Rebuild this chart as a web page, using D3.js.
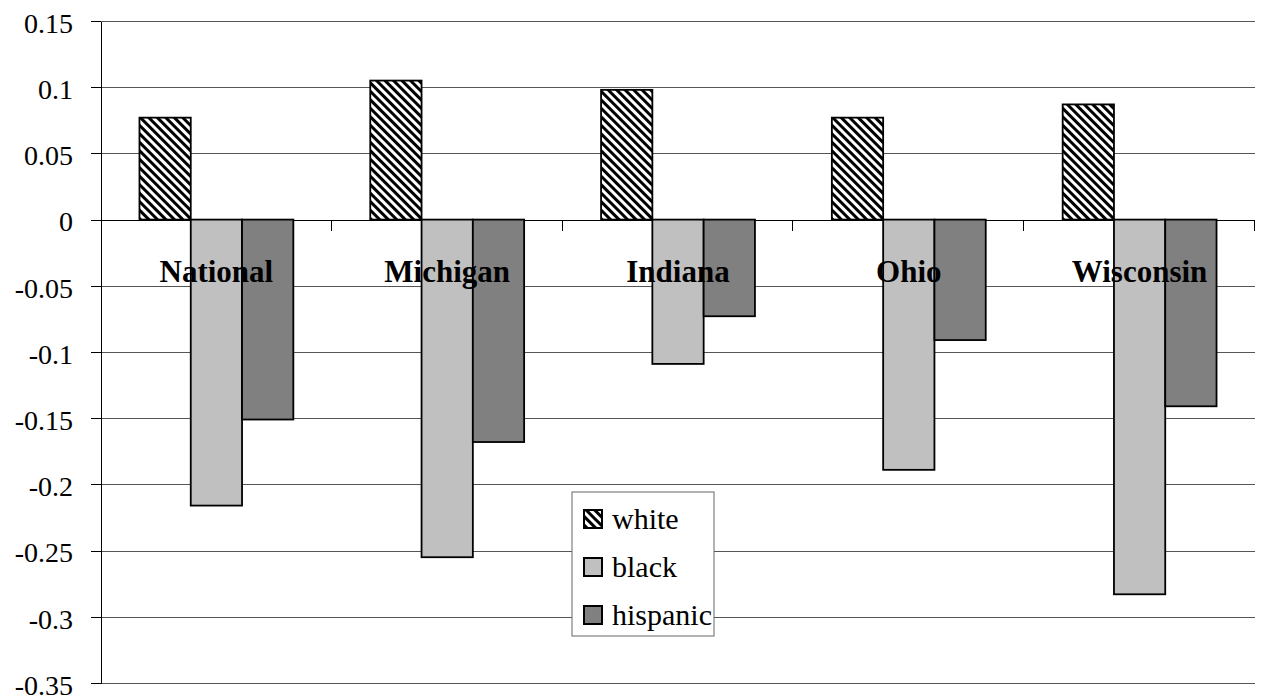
<!DOCTYPE html>
<html lang="en">
<head>
    <meta charset="UTF-8">
    <title>white / black / hispanic by state</title>
    <script src="https://d3js.org/d3.v7.min.js"></script>
    <style>
        body {
            margin: 0;
            padding: 0;
            background-color: #fff;
        }
        svg { display: block; }
        .grid line { stroke: #555; stroke-width: 1; shape-rendering: crispEdges; }
        .grid line.zero { stroke: #000; }
        .axis--y .tick line { stroke: #000; shape-rendering: crispEdges; }
        .axis--y path { stroke: #000; shape-rendering: crispEdges; }
        .bar { stroke: #000; stroke-width: 1.8; }
    </style>
</head>
<body>
    <svg id="chart" width="1265" height="700"></svg>

    <script>
        const categories = ["National", "Michigan", "Indiana", "Ohio", "Wisconsin"];
        const series = ["white", "black", "hispanic"];
        const whiteValues = [0.077, 0.105, 0.098, 0.077, 0.087];
        const blackValues = [-0.216, -0.255, -0.109, -0.189, -0.283];
        const hispanicValues = [-0.151, -0.168, -0.073, -0.091, -0.141];
        const yTickValues = [0.15, 0.1, 0.05, 0, -0.05, -0.1, -0.15, -0.2, -0.25, -0.3, -0.35];
        const yTickLabels = ["0.15", "0.1", "0.05", "0", "-0.05", "-0.1", "-0.15", "-0.2", "-0.25", "-0.3", "-0.35"];

        const valuesBySeries = { white: whiteValues, black: blackValues, hispanic: hispanicValues };
        const fills = { white: "url(#hatch)", black: "#c0c0c0", hispanic: "#808080" };
        const serif = '"Liberation Serif", serif';

        const svg = d3.select("#chart");
        const margin = { top: 21, right: 10, bottom: 17, left: 101 };
        const width = +svg.attr("width") - margin.left - margin.right;
        const height = +svg.attr("height") - margin.top - margin.bottom;

        // hatch pattern for the "white" series (downward diagonal stripes)
        const pat = svg.append("defs").append("pattern")
            .attr("id", "hatch")
            .attr("patternUnits", "userSpaceOnUse")
            .attr("width", 6)
            .attr("height", 6)
            .attr("patternTransform", "rotate(-45)");
        pat.append("rect").attr("width", 6).attr("height", 6).attr("fill", "#fff");
        pat.append("rect").attr("width", 3).attr("height", 6).attr("fill", "#000");

        const g = svg.append("g").attr("transform", `translate(${margin.left},${margin.top})`);

        const x0 = d3.scaleBand()
            .domain(categories)
            .range([0, width])
            .padding(0);

        const x1 = d3.scaleBand()
            .domain(series)
            .range([0, x0.bandwidth()])
            .paddingInner(0)
            .paddingOuter(0.75);

        const y = d3.scaleLinear()
            .domain([-0.35, 0.15])
            .range([height, 0]);

        // gridlines
        g.append("g")
            .attr("class", "grid")
            .selectAll("line")
            .data(yTickValues)
            .enter().append("line")
            .attr("class", d => d === 0 ? "zero" : null)
            .attr("x1", 0)
            .attr("x2", width)
            .attr("y1", d => Math.round(y(d)) + 0.5)
            .attr("y2", d => Math.round(y(d)) + 0.5);

        // y axis
        const yAxis = g.append("g")
            .attr("class", "axis axis--y")
            .call(d3.axisLeft(y)
                .tickValues(yTickValues)
                .tickFormat((d, i) => yTickLabels[i])
                .tickSize(10)
                .tickSizeOuter(0)
                .tickPadding(18));
        yAxis.selectAll(".tick text")
            .style("font-family", serif)
            .style("font-size", "28px")
            .attr("fill", "#000")
            .attr("dy", "0.4em");

        // category boundary ticks below the zero line
        g.append("g")
            .selectAll("line")
            .data(categories)
            .enter().append("line")
            .attr("x1", d => Math.round(x0(d) + x0.bandwidth()) - 0.5)
            .attr("x2", d => Math.round(x0(d) + x0.bandwidth()) - 0.5)
            .attr("y1", y(0))
            .attr("y2", y(0) + 11)
            .attr("stroke", "#000")
            .attr("shape-rendering", "crispEdges");

        // bars
        const groups = g.selectAll(".cat")
            .data(categories)
            .enter().append("g")
            .attr("class", "cat")
            .attr("transform", d => `translate(${x0(d)},0)`);

        groups.selectAll("rect")
            .data((d, i) => series.map(s => ({ key: s, value: valuesBySeries[s][i] })))
            .enter().append("rect")
            .attr("class", "bar")
            .attr("x", d => x1(d.key))
            .attr("width", x1.bandwidth())
            .attr("y", d => y(Math.max(0, d.value)))
            .attr("height", d => Math.abs(y(d.value) - y(0)))
            .attr("fill", d => fills[d.key]);

        // category labels, drawn over the bars
        g.selectAll(".cat-label")
            .data(categories)
            .enter().append("text")
            .attr("class", "cat-label")
            .style("font-family", serif)
            .style("font-size", "31px")
            .style("font-weight", "bold")
            .attr("x", d => x0(d) + x0.bandwidth() / 2)
            .attr("y", y(0) + 62)
            .attr("text-anchor", "middle")
            .text(d => d);

        // legend
        const legend = svg.append("g")
            .attr("class", "legend")
            .attr("transform", "translate(572,492)");

        legend.append("rect")
            .attr("width", 142)
            .attr("height", 144)
            .attr("fill", "#fff")
            .attr("stroke", "#666")
            .attr("stroke-width", 1);

        const items = legend.selectAll(".item")
            .data(series)
            .enter().append("g")
            .attr("class", "item")
            .attr("transform", (d, i) => `translate(12,${18 + i * 48})`);

        items.append("rect")
            .attr("width", 18)
            .attr("height", 18)
            .attr("fill", d => fills[d])
            .attr("stroke", "#000")
            .attr("stroke-width", 2);

        items.append("text")
            .style("font-family", serif)
            .style("font-size", "30px")
            .attr("x", 28)
            .attr("y", 19)
            .text(d => d);
    </script>
</body>
</html>
